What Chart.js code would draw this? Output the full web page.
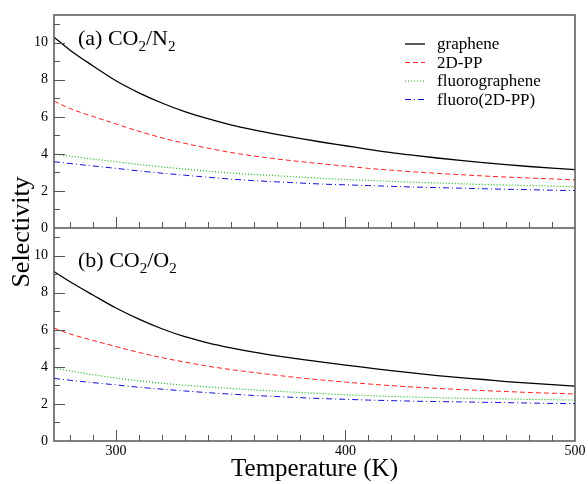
<!DOCTYPE html>
<html>
<head>
<meta charset="utf-8">
<script src="https://cdn.jsdelivr.net/npm/chart.js@4"></script>
<style>
  html, body { margin: 0; padding: 0; background: #fff; }
  #wrap { width: 588px; height: 484px; }
</style>
</head>
<body>
<div id="wrap"><canvas id="selChart" width="588" height="484"></canvas></div>
<script>
// Temperature grid (K)
const temps = [273, 280, 290, 300, 310, 320, 330, 340, 350, 360, 370, 380, 390, 400, 410, 420, 430, 440, 450, 460, 470, 480, 490, 500];

// (a) CO2/N2 selectivity
const n2Graphene = [10.3, 9.6, 8.75, 7.95, 7.3, 6.75, 6.28, 5.9, 5.57, 5.3, 5.06, 4.84, 4.63, 4.44, 4.25, 4.07, 3.92, 3.78, 3.65, 3.53, 3.42, 3.32, 3.23, 3.15];
const n2PP = [6.85, 6.45, 6.02, 5.62, 5.22, 4.87, 4.57, 4.31, 4.08, 3.89, 3.73, 3.59, 3.46, 3.34, 3.22, 3.12, 3.03, 2.95, 2.88, 2.81, 2.75, 2.7, 2.65, 2.6];
const n2Fluoro = [4.0, 3.88, 3.72, 3.58, 3.43, 3.3, 3.18, 3.07, 2.97, 2.89, 2.82, 2.75, 2.68, 2.62, 2.57, 2.52, 2.47, 2.43, 2.39, 2.35, 2.32, 2.29, 2.26, 2.23];
const n2FluoroPP = [3.58, 3.48, 3.35, 3.22, 3.08, 2.96, 2.85, 2.74, 2.64, 2.56, 2.49, 2.43, 2.37, 2.33, 2.29, 2.25, 2.21, 2.18, 2.15, 2.12, 2.09, 2.07, 2.04, 2.02];

// (b) CO2/O2 selectivity
const o2Graphene = [9.15, 8.6, 7.88, 7.18, 6.58, 6.06, 5.63, 5.3, 5.03, 4.8, 4.6, 4.42, 4.26, 4.1, 3.95, 3.8, 3.66, 3.53, 3.42, 3.32, 3.21, 3.12, 3.04, 2.96];
const o2PP = [6.1, 5.78, 5.43, 5.1, 4.78, 4.5, 4.26, 4.04, 3.86, 3.7, 3.55, 3.41, 3.29, 3.18, 3.08, 2.99, 2.91, 2.84, 2.78, 2.72, 2.67, 2.62, 2.58, 2.54];
const o2Fluoro = [3.93, 3.78, 3.58, 3.4, 3.25, 3.12, 3.01, 2.92, 2.84, 2.76, 2.69, 2.62, 2.56, 2.5, 2.45, 2.4, 2.37, 2.34, 2.31, 2.29, 2.27, 2.25, 2.23, 2.21];
const o2FluoroPP = [3.38, 3.28, 3.15, 3.03, 2.9, 2.8, 2.7, 2.61, 2.53, 2.46, 2.4, 2.34, 2.29, 2.25, 2.21, 2.18, 2.15, 2.13, 2.11, 2.09, 2.07, 2.05, 2.03, 2.02];

const seriesNames = ['graphene', '2D-PP', 'fluorographene', 'fluoro(2D-PP)'];
const xTicks = [300, 400, 500];
const yTicks = [0, 2, 4, 6, 8, 10];

const SERIF = "'Liberation Serif', 'DejaVu Serif', serif";
const styles = [
  { color: '#000000', dash: [], width: 1.3 },
  { color: '#ff2020', dash: [5, 3], width: 1 },
  { color: '#10b010', dash: [1, 2], width: 1.2 },
  { color: '#1010d0', dash: [6, 3, 1, 3], width: 1 }
];

function pts(ys) {
  return temps.map((t, i) => ({ x: t, y: ys[i] }));
}

function makeSet(name, ys, idx, axis) {
  const s = styles[idx];
  return {
    label: name,
    data: pts(ys),
    yAxisID: axis,
    borderColor: s.color,
    borderDash: s.dash,
    borderWidth: s.width,
    pointRadius: 0,
    fill: false,
    cubicInterpolationMode: 'monotone'
  };
}

const panelA = [n2Graphene, n2PP, n2Fluoro, n2FluoroPP];
const panelB = [o2Graphene, o2PP, o2Fluoro, o2FluoroPP];
const datasets = [];
panelA.forEach((ys, i) => datasets.push(makeSet(seriesNames[i], ys, i, 'yA')));
panelB.forEach((ys, i) => datasets.push(makeSet(seriesNames[i], ys, i, 'yB')));

function line(ctx, x1, y1, x2, y2) {
  ctx.beginPath();
  ctx.moveTo(x1, y1);
  ctx.lineTo(x2, y2);
  ctx.stroke();
}

// label like "(a) CO2/N2" with subscripts
function drawGasLabel(ctx, x, y, parts) {
  parts.forEach(p => {
    ctx.font = (p.sub ? '15px ' : '22px ') + SERIF;
    ctx.fillText(p.t, x, p.sub ? y + 6 : y);
    x += ctx.measureText(p.t).width;
  });
}

// frame, inward ticks, panel labels, legend, y title
const decorPlugin = {
  id: 'decor',
  afterDatasetsDraw(chart) {
    const { ctx, chartArea: a, scales } = chart;
    const xs = scales.x, yA = scales.yA, yB = scales.yB;
    ctx.save();
    ctx.strokeStyle = '#555';
    ctx.lineWidth = 1;
    ctx.setLineDash([]);

    [yA.bottom, yB.bottom].forEach(base => {
      for (let t = 280; t < 500; t += 10) {
        const px = Math.round(xs.getPixelForValue(t)) + 0.5;
        line(ctx, px, base, px, base - (t % 100 === 0 ? 11 : 6));
      }
    });
    [yA, yB].forEach(s => {
      for (let v = 1; v <= 11; v++) {
        const py = Math.round(s.getPixelForValue(v)) + 0.5;
        line(ctx, a.left, py, a.left + (v % 2 === 0 ? 11 : 6), py);
      }
    });

    ctx.lineWidth = 1.5;
    ctx.strokeRect(a.left, a.top, a.right - a.left, a.bottom - a.top);
    line(ctx, a.left, yA.bottom, a.right, yA.bottom);

    ctx.fillStyle = '#000';
    ctx.textBaseline = 'alphabetic';
    ctx.textAlign = 'left';
    drawGasLabel(ctx, a.left + 24, yA.top + 30,
      [{ t: '(a) CO' }, { t: '2', sub: true }, { t: '/N' }, { t: '2', sub: true }]);
    drawGasLabel(ctx, a.left + 24, yB.top + 39,
      [{ t: '(b) CO' }, { t: '2', sub: true }, { t: '/O' }, { t: '2', sub: true }]);

    // legend
    ctx.font = '17px ' + SERIF;
    seriesNames.forEach((name, i) => {
      const s = styles[i];
      const ly = yA.top + 29 + i * 18.5;
      ctx.strokeStyle = s.color;
      ctx.lineWidth = s.width;
      ctx.setLineDash(s.dash);
      line(ctx, 405, ly, 425, ly);
      ctx.setLineDash([]);
      ctx.fillText(name, 437, ly + 5);
    });

    // shared y title
    ctx.save();
    ctx.translate(29, (a.top + a.bottom) / 2 + 4);
    ctx.rotate(-Math.PI / 2);
    ctx.textAlign = 'center';
    ctx.font = '26px ' + SERIF;
    ctx.fillText('Selectivity', 0, 0);
    ctx.restore();
    ctx.restore();
  }
};

function yScale() {
  return {
    type: 'linear',
    position: 'left',
    stack: 'panels',
    stackWeight: 1,
    min: 0,
    max: 11.5,
    grid: { display: false, tickLength: 0 },
    border: { display: false },
    afterBuildTicks: s => { s.ticks = yTicks.map(v => ({ value: v })); },
    afterFit: s => { s.width = 54; },
    ticks: { color: '#000', padding: 6, font: { family: SERIF, size: 14 } }
  };
}

new Chart(document.getElementById('selChart'), {
  type: 'line',
  data: { datasets: datasets },
  options: {
    responsive: false,
    animation: false,
    layout: { padding: { top: 15, right: 13, left: 0, bottom: 0 } },
    plugins: { legend: { display: false }, tooltip: { enabled: false } },
    scales: {
      x: {
        type: 'linear',
        min: 273,
        max: 500,
        grid: { display: false, tickLength: 0 },
        border: { display: false },
        afterBuildTicks: s => { s.ticks = xTicks.map(v => ({ value: v })); },
        afterFit: s => { s.height = 43; },
        ticks: { color: '#000', padding: 2, maxRotation: 0, font: { family: SERIF, size: 14 } },
        title: { display: true, text: 'Temperature (K)', color: '#000', padding: { top: 0, bottom: 0 }, font: { family: SERIF, size: 25 } }
      },
      yB: yScale(),
      yA: yScale()
    }
  },
  plugins: [decorPlugin]
});
</script>
</body>
</html>
